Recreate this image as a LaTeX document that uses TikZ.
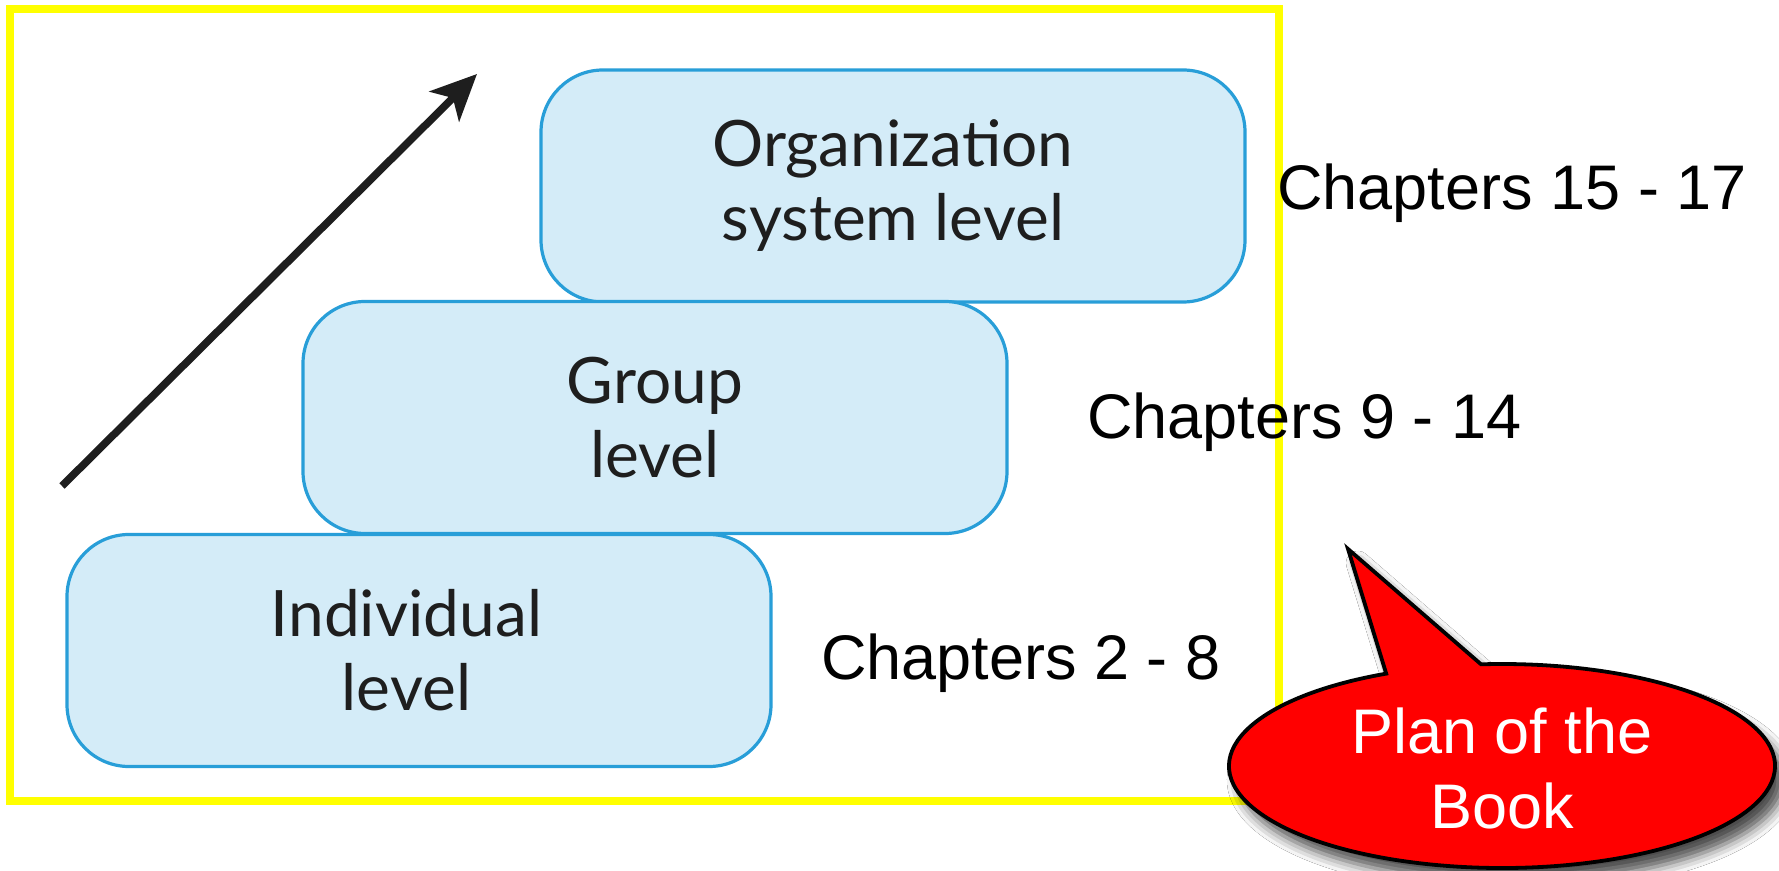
\documentclass[tikz,border=0pt]{standalone}
\usepackage{fontspec}
\setmainfont{Liberation Sans}
\newfontfamily\gillfont{Lato}
\usetikzlibrary{arrows.meta,shadows.blur,calc}
\definecolor{boxfill}{RGB}{212,236,248}
\definecolor{boxline}{RGB}{40,158,216}
\definecolor{frameyellow}{RGB}{255,255,0}
\definecolor{callred}{RGB}{255,0,0}
\definecolor{textdark}{RGB}{30,30,30}
\begin{document}
\begin{tikzpicture}[x=0.5pt,y=-0.5pt,
  levelbox/.style={draw=boxline, fill=boxfill, line width=1.6pt,
    rounded corners=31pt, minimum width=352pt, minimum height=116pt,
    align=center, inner sep=0pt, text=textdark,
    font=\gillfont\fontsize{32}{37}\selectfont},
  chap/.style={anchor=base west, inner sep=0pt,
    font=\fontsize{31.5}{38}\selectfont},
  callout/.style={fill=callred, draw=black, line width=1.9pt,
    blur shadow={shadow xshift=5pt, shadow yshift=-7pt, shadow blur radius=6pt, shadow opacity=70}},
]
\useasboundingbox (0,0) rectangle (1779,871);
\fill[white] (0,0) rectangle (1779,871);

% levels
\node[levelbox] (org) at (893,186) {Organization\\system level};
\node[levelbox] (grp) at (655,417.5) {Group\\level};
\node[levelbox] (ind) at (419,650.5) {\hspace*{-12.5pt}Individual\\\hspace*{-12.5pt}level};

% rising arrow
\coordinate (a0) at (62,486);
\coordinate (a1) at (477,74);
\draw[line width=3.8pt, textdark, -{Stealth[length=23pt,width=21pt,inset=6pt]}] (a0) -- (a1);

% yellow frame
\node[draw=frameyellow, line width=4pt, minimum width=634.5pt, minimum height=396pt, inner sep=0pt] (frame) at (644.5,405) {};

% chapter labels
\node[chap] (c1) at (1277,210) {Chapters 15 - 17};
\node[chap] (c2) at (1087,439) {Chapters 9 - 14};
\node[chap] (c3) at (821,679) {Chapters 2 - 8};

% callout
\coordinate (cc) at (1502,766);
\coordinate (tip) at (1348,549);
\draw[callout] ($(cc)+(265.6:273 and 102)$) -- (tip)
  -- ($(cc)+(244.9:273 and 102)$)
  arc[start angle=244.9, end angle=-94.4, x radius=273, y radius=102] -- cycle;
\node[text=white, align=center, font=\fontsize{31.5}{37.5}\selectfont] (plan) at (1502,768) {Plan of the\\Book};
\end{tikzpicture}
\end{document}
